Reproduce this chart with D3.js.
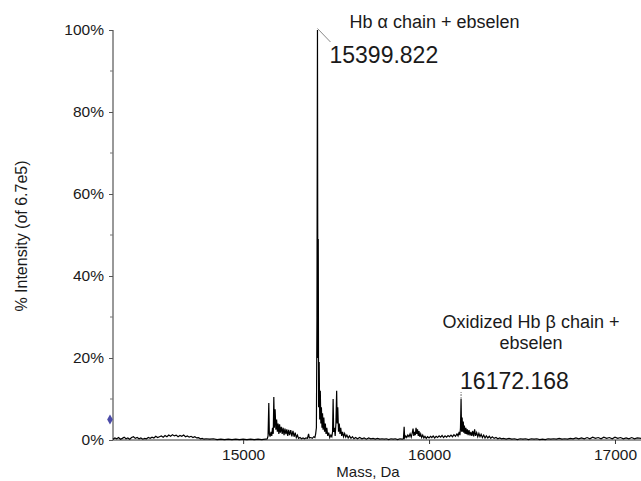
<!DOCTYPE html>
<html>
<head>
<meta charset="utf-8">
<script src="https://cdn.jsdelivr.net/npm/d3@7"></script>
<style>
  html, body { margin: 0; padding: 0; background: #fff; }
  svg { display: block; font-family: "Liberation Sans", Arial, Helvetica, sans-serif; }
</style>
</head>
<body>
<svg id="chart" width="641" height="481"></svg>
<script>
// Deconvoluted intact-mass spectrum (mass in Da, intensity in % of 6.7e5 counts)
const massDa = [
  14300,14310,14320,14330,14340,14350,14360,14370,14380,14390,
  14400,14410,14420,14430,14440,14450,14460,14470,14480,14490,
  14500,14510,14520,14530,14540,14550,14560,14570,14580,14590,
  14600,14610,14620,14630,14640,14650,14660,14670,14680,14690,
  14700,14710,14720,14730,14740,14750,14760,14770,14780,14790,
  14800,14820,14840,14860,14880,14900,14920,14940,14960,14980,
  15000,15020,15040,15060,15080,15100,15120,
  15125,15130,15134,15138,15141,15145,15150,15154,15158,15162,
  15165,15168,15172,15176,15180,15184,15188,15192,15196,15200,
  15205,15210,15215,15220,15225,15230,15235,15240,15245,15250,
  15256,15262,15268,15274,15280,15286,15292,15298,15306,15314,
  15322,15330,15338,15346,15352,15356,15364,15372,15380,15386,
  15390,15394,15397,15399.822,15402,15404,15406,15409,15412,15415,
  15418,15421,15424,15427,15430,15434,15438,15442,15446,15450,
  15455,15460,15466,15472,15477,15481,15484,15487,15491,15495,
  15499,15503,15506,15509,15513,15517,15521,15525,15530,15535,
  15540,15546,15552,15558,15565,15572,15580,15588,15596,15605,
  15615,15627,15639,15651,15663,15675,15687,15699,15711,15723,
  15735,15747,15759,15771,15783,15795,15807,15819,15831,15843,
  15855,15862,15866,15869,15875,15880,15886,15892,15898,15904,
  15910,15914,15918,15922,15926,15930,15934,15938,15942,15946,
  15950,15955,15960,15966,15972,15978,15985,15992,16000,16008,
  16015,16022,16030,16038,16046,16054,16062,16070,16078,16086,
  16094,16102,16110,16118,16126,16134,16142,16150,16156,16162,
  16166,16169,16172.168,16175,16178,16181,16184,16187,16190,16194,
  16198,16202,16206,16210,16215,16220,16225,16230,16235,16240,
  16245,16250,16256,16262,16268,16274,16280,16287,16294,16301,
  16308,16316,16324,16332,16340,16350,16360,16370,16380,16390,
  16400,16415,16430,16445,16460,16475,16490,16505,16520,16535,
  16550,16565,16580,16595,16610,16625,16640,16655,16670,16685,
  16700,16715,16730,16745,16760,16775,16790,16805,16820,16835,
  16850,16865,16880,16895,16910,16925,16940,16955,16970,16985,
  17000,17015,17030,17045,17060,17075,17090,17105,17120,17140
];
const intensityPct = [
  0.2,0.5,0.3,0.6,0.2,0.4,0.7,0.3,0.5,0.2,
  0.6,0.8,0.4,0.6,0.3,0.5,0.2,0.4,0.3,0.6,
  0.4,0.7,0.5,0.9,0.6,0.8,1.0,0.7,1.1,0.8,
  1.2,0.9,1.3,1.0,1.2,0.8,1.1,0.9,1.2,0.8,
  1.0,0.7,0.9,0.6,0.8,0.5,0.6,0.3,0.4,0.2,
  0.3,0.2,0.3,0.1,0.2,0.1,0.2,0.1,0.2,0.1,
  0.2,0.1,0.2,0.1,0.2,0.1,0.2,
  0.2,0.3,1.0,9.0,1.5,0.8,2.0,1.0,3.0,1.5,
  10.5,3.0,7.5,2.5,5.0,2.0,4.0,1.5,3.8,1.8,
  3.2,1.5,3.0,1.2,2.8,1.4,2.6,1.0,2.5,1.2,
  2.4,0.9,2.2,0.8,1.8,0.6,1.2,0.4,0.6,0.3,
  0.5,0.3,0.5,0.4,1.5,0.5,0.6,0.4,0.8,0.6,
  1.5,3.0,30,100,20,49,8,19,5,12,
  4,8,3,6.5,2.5,5.5,2,4,1.5,3,
  1,1.8,0.6,1.2,0.8,2,10,2,3,1,
  4,12,4,8,2,4,1.5,3,1,2,
  0.8,1.6,0.7,1.2,0.5,1.0,0.4,0.8,0.3,0.6,
  0.3,0.6,0.3,0.5,0.2,0.5,0.3,0.4,0.2,0.4,
  0.2,0.3,0.2,0.3,0.1,0.3,0.2,0.3,0.1,0.3,
  0.2,0.3,3.2,0.5,1.0,0.6,1.2,0.8,1.5,0.7,
  1.8,2.8,1.0,2.0,1.2,3.0,1.5,2.6,1.0,2.2,
  0.8,1.5,0.6,1.2,0.5,0.9,0.4,0.8,0.5,0.9,
  0.6,1.0,0.5,0.9,0.6,1.0,0.7,1.1,0.6,1.0,
  0.7,1.1,0.8,1.2,0.8,1.3,0.9,1.5,1.0,2.0,
  1.2,3.0,10,2.0,5.5,2.0,4.5,1.8,3.5,1.5,
  3.0,1.4,2.6,1.2,2.4,1.1,2.0,1.0,2.2,0.9,
  2.6,1.0,1.8,0.8,1.6,0.8,1.4,0.6,1.2,0.5,
  1.0,0.5,0.9,0.4,0.8,0.4,0.6,0.3,0.5,0.3,
  0.4,0.2,0.4,0.2,0.3,0.1,0.3,0.2,0.3,0.1,
  0.3,0.2,0.3,0.1,0.2,0.1,0.3,0.2,0.3,0.2,
  0.4,0.2,0.3,0.2,0.4,0.3,0.5,0.3,0.5,0.3,
  0.6,0.3,0.7,0.4,0.6,0.3,0.7,0.4,0.6,0.3,
  0.7,0.4,0.6,0.3,0.5,0.3,0.6,0.3,0.5,0.4
];

const xTickValues = [15000, 16000, 17000];
const yTickValues = [0, 20, 40, 60, 80, 100];
const yMinorTickValues = [10, 30, 50, 70, 90];
const thresholdPct = 5;

// Annotated peaks
const alphaPeak = { mass: 15399.822, pct: 100, label: "15399.822", name: ["Hb \u03b1 chain + ebselen"] };
const betaPeak  = { mass: 16172.168, pct: 10,  label: "16172.168", name: ["Oxidized Hb \u03b2 chain +", "ebselen"] };

const svg = d3.select("#chart");
const margin = { left: 113, right: 0, top: 30, bottom: 41 };
const W = 641, H = 481;

const x = d3.scaleLinear().domain([14300, 17140]).range([margin.left, W - margin.right]);
const y = d3.scaleLinear().domain([0, 100]).range([H - margin.bottom, margin.top]);

const textColor = "#1a1a1a";

// X axis
const xAxis = svg.append("g")
  .attr("transform", `translate(0,${y(0)})`)
  .call(d3.axisBottom(x).tickValues(xTickValues).tickSize(4).tickPadding(5).tickFormat(d3.format("d")));
xAxis.select(".domain").attr("stroke", "#333").attr("d", `M${x.range()[0]},0H${x.range()[1]}`);
xAxis.selectAll(".tick line").attr("stroke", "#333");
xAxis.selectAll(".tick text").attr("font-size", 15.5).attr("fill", textColor)
  .attr("font-family", "Liberation Sans, Arial, sans-serif");

// Y axis
const yAxis = svg.append("g")
  .attr("transform", `translate(${margin.left},0)`)
  .call(d3.axisLeft(y).tickValues(yTickValues).tickSize(4).tickPadding(5).tickFormat(d => d + "%"));
yAxis.select(".domain").attr("stroke", "#333").attr("d", `M0,${y(0)}V${y(100)}`);
yAxis.selectAll(".tick line").attr("stroke", "#555");
yAxis.selectAll(".tick text").attr("font-size", 15.5).attr("fill", textColor)
  .attr("font-family", "Liberation Sans, Arial, sans-serif");
yAxis.selectAll(".minor").data(yMinorTickValues).enter().append("line")
  .attr("class", "minor")
  .attr("x1", -3).attr("x2", 0)
  .attr("y1", d => y(d)).attr("y2", d => y(d))
  .attr("stroke", "#777");

// Axis titles
svg.append("text")
  .attr("x", 368).attr("y", 477)
  .attr("text-anchor", "middle").attr("font-size", 15).attr("fill", textColor)
  .text("Mass, Da");
svg.append("text")
  .attr("transform", `translate(27,${(y(0) + y(100)) / 2 + 1}) rotate(-90)`)
  .attr("text-anchor", "middle").attr("font-size", 16).attr("fill", textColor)
  .text("% Intensity (of 6.7e5)");

// Threshold marker on the intensity axis
svg.append("path")
  .attr("d", d3.symbol(d3.symbolDiamond, 28)())
  .attr("transform", `translate(${margin.left - 3},${y(thresholdPct)})`)
  .attr("fill", "#4b4ba8");

// Spectrum trace
const spectrum = d3.zip(massDa, intensityPct);
svg.append("path")
  .datum(spectrum)
  .attr("fill", "none")
  .attr("stroke", "#000")
  .attr("stroke-width", 1.2)
  .attr("stroke-linejoin", "miter")
  .attr("d", d3.line().x(d => x(d[0])).y(d => y(d[1])));

// Alpha-chain annotation with leader line
const ax = x(alphaPeak.mass), ay = y(alphaPeak.pct);
svg.append("line")
  .attr("x1", ax).attr("y1", ay - 1.5).attr("x2", ax + 13).attr("y2", ay + 12)
  .attr("stroke", "#888").attr("stroke-width", 1);
svg.append("text")
  .attr("x", ax + 12).attr("y", ay + 33)
  .attr("font-size", 23).attr("fill", textColor)
  .text(alphaPeak.label);
svg.append("text")
  .attr("x", ax + 32).attr("y", ay - 2)
  .attr("font-size", 18).attr("fill", textColor)
  .text(alphaPeak.name[0]);

// Beta-chain annotation
const bx = x(betaPeak.mass), by = y(betaPeak.pct);
svg.append("line")
  .attr("x1", bx).attr("y1", by).attr("x2", bx).attr("y2", by - 7)
  .attr("stroke", "#777").attr("stroke-width", 1).attr("stroke-dasharray", "2,1");
svg.append("text")
  .attr("x", bx - 1).attr("y", by - 10)
  .attr("font-size", 23).attr("fill", textColor)
  .text(betaPeak.label);
svg.append("text")
  .attr("text-anchor", "middle")
  .attr("font-size", 18).attr("fill", textColor)
  .selectAll("tspan").data(betaPeak.name).enter().append("tspan")
  .attr("x", bx + 70).attr("y", (d, i) => by - 71 + i * 21)
  .text(d => d);
</script>
</body>
</html>
